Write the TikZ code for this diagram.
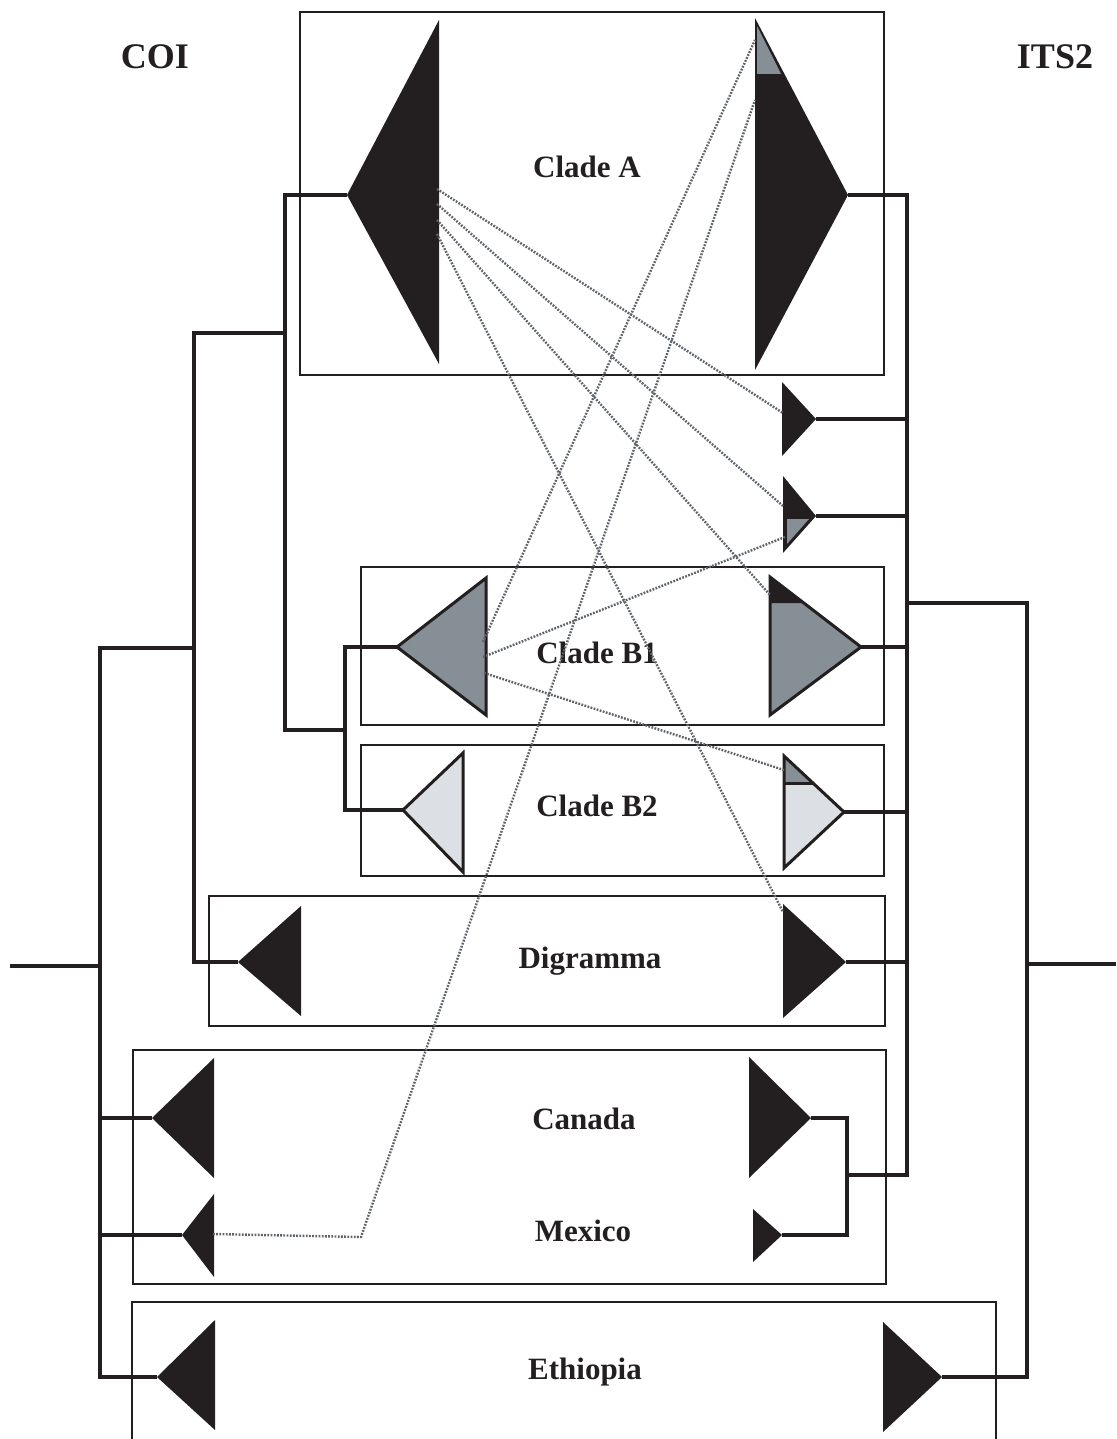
\documentclass[tikz,border=0pt]{standalone}
\usepackage{fontspec}
\setmainfont{Liberation Serif}
\definecolor{ink}{HTML}{231F20}
\definecolor{midgray}{HTML}{868E96}
\definecolor{palegray}{HTML}{DCDFE3}
\definecolor{dotgray}{HTML}{5F646A}
\begin{document}
\begin{tikzpicture}[x=0.5pt,y=-0.5pt,
  branch/.style={draw=ink,line width=1.75pt,line join=miter},
  frame/.style={draw=ink,line width=0.75pt},
  link/.style={draw=dotgray,line width=1.2pt,dash pattern=on 0.9pt off 0.7pt},
  outlined/.style={draw=ink,line width=1.5pt,line join=miter},
  lbl/.style={font=\bfseries\fontsize{15.5}{18}\selectfont,text=ink,inner sep=0pt},
  head/.style={font=\bfseries\fontsize{18}{21}\selectfont,text=ink,inner sep=0pt}]
\useasboundingbox (0,0) rectangle (1116,1439);

% ---- group frames
\draw[frame] (300,12) rectangle (884,375);
\draw[frame] (361,567) rectangle (884,725);
\draw[frame] (361,745) rectangle (884,876);
\draw[frame] (209,896) rectangle (885,1026);
\draw[frame] (133,1050) rectangle (886,1284);
\draw[frame] (132,1439) -- (132,1302) -- (996,1302) -- (996,1439);

% ---- tips of the collapsed clades
\coordinate (aL) at (347,195);   \coordinate (aR) at (848,195);
\coordinate (t1) at (816,419);   \coordinate (t2) at (816,516);
\coordinate (b1L) at (397,647);  \coordinate (b1R) at (861,647);
\coordinate (b2L) at (403,810);  \coordinate (b2R) at (844,812);
\coordinate (digL) at (238,962); \coordinate (digR) at (846,962);
\coordinate (canL) at (152,1118);\coordinate (canR) at (811,1118);
\coordinate (mexL) at (182,1235);\coordinate (mexR) at (782,1235);
\coordinate (ethL) at (157,1377);\coordinate (ethR) at (942,1377);
\coordinate (rootL) at (10,966); \coordinate (rootR) at (1116,964);

% ---- COI tree
\draw[branch] (b1L) -- (345,647) |- (b2L);
\draw[branch] (aL) -| (285,730) -- (345,730);
\draw[branch] (285,333) -- (194,333) |- (digL);
\draw[branch] (194,648) -- (100,648) |- (ethL);
\draw[branch] (100,1118) -- (canL);
\draw[branch] (100,1235) -- (mexL);
\draw[branch] (rootL) -- (100,966);

% ---- ITS2 tree
\draw[branch] (aR) -| (907,1175) -- (847,1175);
\draw[branch] (canR) -| (847,1235) -- (mexR);
\draw[branch] (t1) -- (907,419);
\draw[branch] (t2) -- (907,516);
\draw[branch] (b1R) -- (907,647);
\draw[branch] (b2R) -- (907,812);
\draw[branch] (digR) -- (907,962);
\draw[branch] (907,603) -| (1027,1377) -- (ethR);
\draw[branch] (1027,964) -- (rootR);

% ---- clade triangles
\fill[ink] (439,20) -- (aL) -- (439,364) -- cycle;
\fill[ink] (755,18) -- (aR) -- (755,370) -- cycle;
\fill[midgray] (757,26) -- (781,74) -- (757,74) -- cycle;

\fill[ink] (782,382) -- (t1) -- (782,456) -- cycle;
\fill[ink] (783,476) -- (t2) -- (783,553) -- cycle;
\fill[midgray] (787,519) -- (809,519) -- (787,544) -- cycle;

\draw[outlined,fill=midgray] (486,578) -- (b1L) -- (486,715) -- cycle;
\draw[outlined,fill=midgray] (770,577) -- (b1R) -- (770,715) -- cycle;
\fill[ink] (770,577) -- (804,603) -- (770,603) -- cycle;

\draw[outlined,fill=palegray] (463,753) -- (b2L) -- (463,872) -- cycle;
\fill[palegray] (784,756) -- (b2R) -- (784,868) -- cycle;
\fill[midgray] (784,756) -- (813,783) -- (784,783) -- cycle;
\draw[ink,line width=1.5pt] (784,783) -- (813,783);
\draw[outlined] (784,756) -- (b2R) -- (784,868) -- cycle;

\fill[ink] (301,906) -- (digL) -- (301,1016) -- cycle;
\fill[ink] (783,904) -- (digR) -- (783,1018) -- cycle;
\fill[ink] (214,1058) -- (canL) -- (214,1178) -- cycle;
\fill[ink] (749,1057) -- (canR) -- (749,1178) -- cycle;
\fill[ink] (214,1194) -- (mexL) -- (214,1277) -- cycle;
\fill[ink] (753,1209) -- (mexR) -- (753,1262) -- cycle;
\fill[ink] (215,1320) -- (ethL) -- (215,1430) -- cycle;
\fill[ink] (883,1322) -- (ethR) -- (883,1432) -- cycle;

% ---- labels
\node[head] (coi) at (155,57) {COI};
\node[head] (its) at (1055,57) {ITS2};
\node[lbl] (cladeA) at (587,167) {Clade A};
\node[lbl] (cladeB1) at (597,653) {Clade B1};
\node[lbl] (cladeB2) at (597,806) {Clade B2};
\node[lbl] (digramma) at (590,961) {Digramma};
\node[lbl] (canada) at (584,1119) {Canada};
\node[lbl] (mexico) at (583,1231) {Mexico};
\node[lbl] (ethiopia) at (585,1372) {Ethiopia};

% ---- incongruent placements between the two trees
\coordinate (aL1) at (437,189); \coordinate (aL2) at (437,204);
\coordinate (aL3) at (437,220); \coordinate (aL4) at (437,234);
\coordinate (t1in) at (783,413); \coordinate (t2in) at (783,506);
\coordinate (b1Rin) at (770,595); \coordinate (digRin) at (783,912);
\coordinate (b1L1) at (483,642); \coordinate (b1L2) at (483,657);
\coordinate (b1L3) at (484,673);
\coordinate (aRin1) at (755,40); \coordinate (aRin2) at (755,100);
\coordinate (t2lo) at (785,537); \coordinate (b2Rin) at (784,770);
\coordinate (mexout) at (213,1234); \coordinate (bend) at (361,1237);

\draw[link] (aL1) -- (t1in);
\draw[link] (aL2) -- (t2in);
\draw[link] (aL3) -- (b1Rin);
\draw[link] (aL4) -- (digRin);
\draw[link] (b1L1) -- (aRin1);
\draw[link] (b1L2) -- (t2lo);
\draw[link] (b1L3) -- (b2Rin);
\draw[link] (mexout) -- (bend) -- (aRin2);
\end{tikzpicture}
\end{document}
